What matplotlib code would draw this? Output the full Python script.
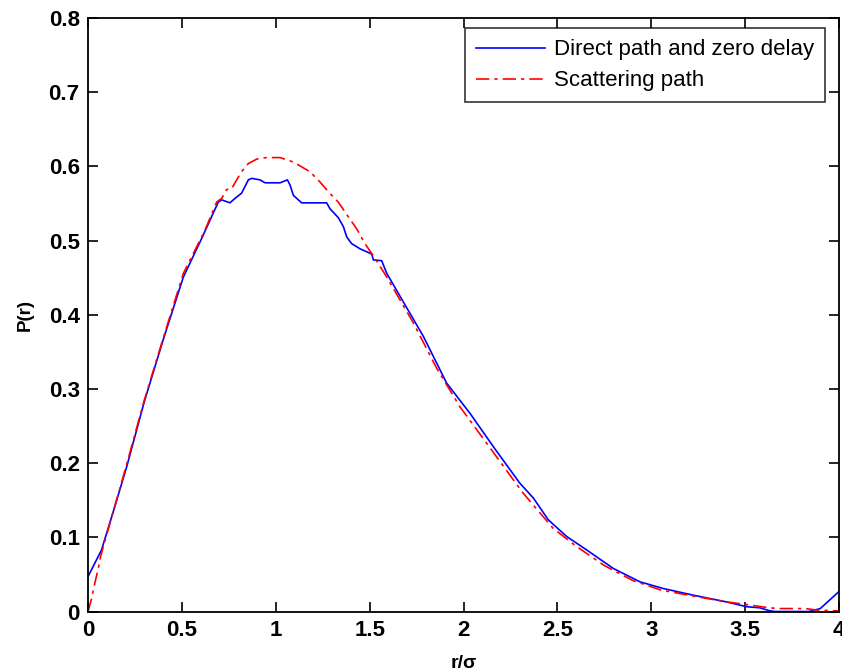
import numpy as np
import matplotlib
matplotlib.use('Agg')
import matplotlib.pyplot as plt

# Данные
r_direct = [0, 0.072, 0.135, 0.206, 0.3, 0.4, 0.508, 0.6, 0.694, 0.712, 0.756, 0.783,
            0.818, 0.854, 0.872, 0.916, 0.943, 1.023, 1.062, 1.076, 1.094, 1.138,
            1.271, 1.289, 1.333, 1.36, 1.378, 1.404, 1.449, 1.511, 1.52, 1.564,
            1.591, 1.662, 1.786, 1.91, 2.035, 2.168, 2.3, 2.372, 2.452, 2.55,
            2.656, 2.798, 2.94, 3.064, 3.224, 3.4, 3.507, 3.578, 3.63, 3.66,
            3.84, 3.9, 3.95, 4.0]
p_direct = [0.047, 0.083, 0.135, 0.195, 0.283, 0.366, 0.451, 0.50, 0.552, 0.555,
            0.551, 0.557, 0.564, 0.582, 0.584, 0.582, 0.578, 0.578, 0.582, 0.575,
            0.561, 0.551, 0.551, 0.543, 0.531, 0.519, 0.505, 0.496, 0.489, 0.482,
            0.474, 0.473, 0.456, 0.425, 0.371, 0.308, 0.267, 0.219, 0.173, 0.153,
            0.1235, 0.101, 0.083, 0.058, 0.040, 0.031, 0.022, 0.013, 0.0065,
            0.005, 0.001, 0.0, 0.0, 0.004, 0.0155, 0.027]

r_scatter = [0, 0.02, 0.037, 0.055, 0.067, 0.091, 0.2, 0.3, 0.4, 0.508, 0.623,
             0.685, 0.712, 0.739, 0.765, 0.792, 0.818, 0.854, 0.899, 0.95, 1.023,
             1.094, 1.182, 1.236, 1.28, 1.333, 1.387, 1.431, 1.475, 1.529, 1.591,
             1.733, 1.857, 1.981, 2.123, 2.31, 2.38, 2.478, 2.6, 2.75, 2.9, 3.05,
             3.22, 3.4, 3.49, 3.6, 3.67, 3.82, 3.88, 3.97, 4.0]
p_scatter = [0, 0.018, 0.039, 0.058, 0.074, 0.096, 0.193, 0.285, 0.368, 0.456,
             0.514, 0.552, 0.557, 0.569, 0.570, 0.582, 0.593, 0.604, 0.610, 0.612,
             0.612, 0.606, 0.593, 0.579, 0.566, 0.552, 0.532, 0.516, 0.496, 0.476,
             0.451, 0.389, 0.328, 0.276, 0.227, 0.162, 0.141, 0.112, 0.088, 0.062,
             0.042, 0.029, 0.021, 0.013, 0.010, 0.006, 0.004, 0.004, 0.002,
             0.001, 0.001]

x_ticklabels = ['0', '0.5', '1', '1.5', '2', '2.5', '3', '3.5', '4']
y_ticklabels = ['0', '0.1', '0.2', '0.3', '0.4', '0.5', '0.6', '0.7', '0.8']

plt.rcParams['font.family'] = ['Liberation Sans', 'DejaVu Sans']

fig = plt.figure(figsize=(8.42, 6.72), dpi=100)
ax = fig.add_axes([0.1045, 0.09, 0.892, 0.883])

ax.plot(r_direct, p_direct, color='#0000ff', lw=1.2, label='Direct path and zero delay')
ax.plot(r_scatter, p_scatter, color='#ff0000', lw=1.2, linestyle=(0, (8, 3, 2, 3)),
        label='Scattering path')

ax.set_xlim(0, 4)
ax.set_ylim(0, 0.8)
ax.set_xticks(np.linspace(0, 4, len(x_ticklabels)))
ax.set_xticklabels(x_ticklabels)
ax.set_yticks(np.linspace(0, 0.8, len(y_ticklabels)))
ax.set_yticklabels(y_ticklabels)
ax.tick_params(direction='in', length=7, width=1.2, top=True, right=True,
               labelsize=16, pad=6)
for lab in ax.get_xticklabels() + ax.get_yticklabels():
    lab.set_fontweight('bold')
for s in ax.spines.values():
    s.set_linewidth(1.3)

ax.set_xlabel('r/\u03c3', fontsize=14, fontweight='bold', labelpad=10)
ax.set_ylabel('P(r)', fontsize=13.5, fontweight='bold', labelpad=11)

# рамка легенды: x 460..825, y 28..102 в пикселях
leg = ax.legend(loc='upper right', bbox_to_anchor=(0.9814, 0.983), borderaxespad=0,
                fontsize=16, frameon=True, fancybox=False, edgecolor='black',
                handlelength=3.1, handletextpad=0.4, borderpad=0.5,
                labelspacing=0.45)
leg.get_frame().set_linewidth(1.2)

fig.savefig('out.png', dpi=100)
